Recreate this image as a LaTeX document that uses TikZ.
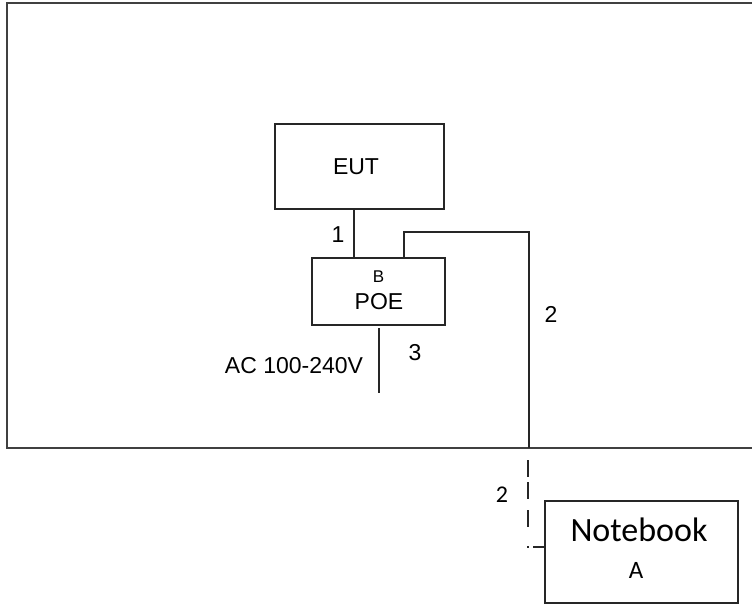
\documentclass[tikz,border=0pt]{standalone}
\usepackage{fontspec}
\setmainfont{Liberation Sans}
\newfontfamily\calfont{Carlito}
\begin{document}
\begin{tikzpicture}[x=1pt,y=-1pt,line width=1.6pt,
  boxnode/.style={draw=black!85,line width=1.6pt,inner sep=0pt},
  lbl/.style={anchor=base,inner sep=0pt,font=\fontsize{23}{26}\selectfont},
  cal/.style={anchor=base,inner sep=0pt,font=\calfont\fontsize{24}{28}\selectfont},
  wire/.style={draw=black!85,line width=1.6pt}]
\useasboundingbox (0,0) rectangle (752,604);
% outer frame (open on the right)
\coordinate (ftr) at (752,3);
\coordinate (ftl) at (7,3);
\coordinate (fbl) at (7,448);
\coordinate (fbr) at (752,448);
\draw[wire,draw=black!75,line width=2pt] (ftr) -- (ftl) -- (fbl) -- (fbr);
% boxes
\node[boxnode,minimum width=169pt,minimum height=85pt] (eut) at (359.5,166.5) {};
\node[boxnode,minimum width=133pt,minimum height=67pt] (poe) at (378.5,291.5) {};
\node[boxnode,minimum width=193pt,minimum height=102pt] (nb) at (641.5,552) {};
% box texts
\node[lbl] (eutt) at (356,175) {EUT};
\node[lbl,font=\fontsize{17}{20}\selectfont] (poeb) at (378.5,282) {B};
\node[lbl] (poet) at (379,309) {POE};
\node[cal,font=\calfont\fontsize{34}{40}\selectfont] (nbt) at (639,541) {Notebook};
\node[cal,font=\calfont\fontsize{25}{30}\selectfont] (nba) at (636,578) {A};
% cable 1
\coordinate (c1) at (354,0);
\draw[wire] (eut.south -| c1) -- (poe.north -| c1);
\node[lbl] (l1) at (338,242) {1};
% cable 2
\coordinate (c2a) at (404,232);
\coordinate (c2b) at (529,232);
\draw[wire] (poe.north -| c2a) -- (c2a) -- (c2b) -- (c2b |- fbl);
\node[lbl] (l2) at (551,322) {2};
\coordinate (d0) at (528,460);
\coordinate (d1) at (528,547);
\draw[wire,line width=2.4pt,dash pattern=on 17pt off 5pt on 17pt off 11pt on 17pt off 19pt on 2pt off 4pt on 20pt] (d0) -- (d1) -- (d1 -| nb.west);
\node[cal] (l2b) at (502,502) {2};
% cable 3
\coordinate (c3t) at (379,328);
\coordinate (c3b) at (379,393);
\draw[wire] (c3t) -- (c3b);
\node[lbl] (l3) at (415,360) {3};
\node[lbl] (ac) at (294,373) {AC 100-240V};
\end{tikzpicture}
\end{document}
